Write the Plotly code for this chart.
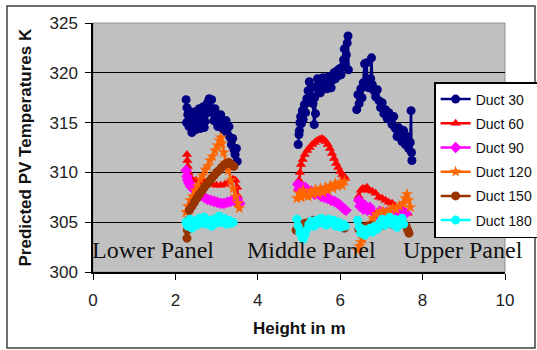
import plotly.graph_objects as go

# ---------------- data ----------------
series_names = ["Duct 30", "Duct 60", "Duct 90", "Duct 120", "Duct 150", "Duct 180"]
panel_labels = ["Lower Panel", "Middle Panel", "Upper Panel"]
panel_label_x = [-0.07, 3.70, 7.48]   # in metres (axis units)
panel_label_y = 302.2                 # in K
x_ticks = [0, 2, 4, 6, 8, 10]
y_ticks = [300, 305, 310, 315, 320, 325]
x_range = [0, 10]
y_range = [300, 325]

# Duct 30
d30_lower_x = [2.26, 2.28, 2.30, 2.27, 2.32, 2.35, 2.33, 2.38, 2.42, 2.40, 2.45, 2.48, 2.52, 2.50, 2.55, 2.58,
               2.62, 2.60, 2.65, 2.68, 2.72, 2.70, 2.75, 2.78, 2.82, 2.85, 2.88, 2.90, 2.93, 2.96, 3.00, 3.03,
               3.06, 3.10, 3.13, 3.16, 3.20, 3.23, 3.26, 3.30, 3.33, 3.36, 3.39, 3.42, 3.45, 3.48, 3.50]
d30_lower_y = [317.3, 316.5, 315.8, 315.0, 316.2, 315.4, 314.6, 315.9, 314.8, 314.0, 315.2, 316.1, 315.0, 314.3,
               315.6, 316.4, 315.5, 314.4, 315.8, 316.6, 315.1, 314.5, 315.9, 317.0, 317.4, 316.3, 317.3, 316.0,
               315.2, 316.4, 315.0, 314.6, 315.3, 315.8, 314.9, 314.3, 314.8, 315.2, 313.9, 314.6, 313.5, 312.8,
               313.4, 312.3, 311.8, 312.4, 311.1]
d30_middle_x = [4.98, 5.00, 5.02, 5.01, 5.04, 5.06, 5.08, 5.10, 5.13, 5.16, 5.19, 5.22, 5.20, 5.25, 5.28, 5.31,
                5.34, 5.37, 5.40, 5.38, 5.42, 5.45, 5.48, 5.52, 5.55, 5.58, 5.62, 5.65, 5.68, 5.72, 5.75, 5.78,
                5.82, 5.85, 5.88, 5.92, 5.95, 5.98, 6.02, 6.05, 6.08, 6.10, 6.12, 6.15, 6.17, 6.19, 6.20]
d30_middle_y = [312.8, 313.8, 315.0, 314.2, 315.6, 314.9, 316.2, 315.3, 316.8, 316.0, 317.4, 318.2, 317.0, 319.1,
                318.4, 317.6, 316.9, 314.8, 315.9, 317.5, 318.6, 319.4, 318.8, 318.0, 319.0, 319.5, 318.6, 319.2,
                318.4, 319.6, 318.9, 318.5, 319.3, 320.0, 319.4, 320.2, 319.7, 320.4, 319.8, 320.6, 321.3, 322.4,
                320.9, 321.8, 323.0, 323.7, 320.3]
d30_upper_x = [6.40, 6.43, 6.46, 6.50, 6.53, 6.56, 6.59, 6.62, 6.64, 6.66, 6.70, 6.74, 6.76, 6.78, 6.82, 6.86,
               6.90, 6.94, 6.98, 7.02, 7.06, 7.10, 7.14, 7.18, 7.22, 7.26, 7.30, 7.34, 7.38, 7.42, 7.46, 7.50,
               7.54, 7.58, 7.62, 7.66, 7.70, 7.72, 7.73, 7.74]
d30_upper_y = [316.3, 317.8, 316.9, 318.4, 317.5, 319.0, 320.9, 318.6, 321.0, 319.2, 318.5, 319.4, 321.5, 318.8,
               318.2, 317.6, 318.3, 317.2, 316.5, 317.0, 315.9, 316.3, 315.4, 316.0, 315.2, 314.8, 315.6, 314.4,
               313.6, 314.5, 313.9, 313.1, 314.2, 312.8, 313.6, 312.4, 313.0, 316.2, 312.0, 311.2]

# Duct 60
d60_lower_x = [2.28, 2.29, 2.30, 2.32, 2.35, 2.40, 2.50, 2.60, 2.70, 2.80, 2.90, 3.00, 3.10, 3.20, 3.30, 3.40,
               3.46, 3.50, 3.52, 3.54]
d60_lower_y = [311.8, 311.2, 310.6, 310.0, 309.6, 309.3, 309.2, 309.1, 309.0, 308.9, 308.8, 308.7, 308.7, 308.8,
               309.0, 309.3, 309.2, 308.5, 307.6, 306.9]
d60_middle_x = [4.98, 5.00, 5.02, 5.05, 5.09, 5.14, 5.20, 5.26, 5.32, 5.38, 5.44, 5.50, 5.55, 5.60, 5.65, 5.70,
                5.75, 5.80, 5.85, 5.90, 5.95, 6.00, 6.05, 6.10, 6.12]
d60_middle_y = [308.3, 309.2, 310.0, 310.8, 311.3, 311.8, 312.2, 312.5, 312.8, 313.0, 313.2, 313.3, 313.4, 313.3,
                313.1, 312.8, 312.4, 311.9, 311.4, 310.9, 310.5, 310.1, 309.8, 309.6, 309.4]
d60_upper_x = [6.45, 6.50, 6.55, 6.60, 6.65, 6.70, 6.78, 6.86, 6.94, 7.02, 7.10, 7.18, 7.26, 7.34, 7.42, 7.50,
               7.58, 7.64]
d60_upper_y = [307.6, 308.2, 308.4, 308.3, 308.5, 308.2, 308.1, 307.9, 307.5, 307.4, 307.2, 307.0, 306.9, 306.6,
               306.5, 306.3, 306.1, 305.9]

# Duct 90
d90_lower_x = [2.26, 2.28, 2.30, 2.33, 2.37, 2.42, 2.48, 2.55, 2.62, 2.70, 2.78, 2.86, 2.94, 3.02, 3.10, 3.18,
               3.26, 3.34, 3.42, 3.50, 3.56]
d90_lower_y = [310.2, 309.6, 309.2, 308.9, 308.6, 308.4, 308.2, 308.0, 307.7, 307.5, 307.3, 307.2, 307.1, 307.0,
               306.9, 306.9, 307.0, 307.1, 307.2, 307.3, 306.9]
d90_middle_x = [4.97, 5.00, 5.05, 5.10, 5.15, 5.22, 5.30, 5.38, 5.46, 5.54, 5.62, 5.70, 5.78, 5.86, 5.94, 6.00,
                6.05, 6.10, 6.14]
d90_middle_y = [308.8, 308.3, 308.6, 308.2, 308.5, 308.0, 308.1, 307.8, 307.9, 307.6, 307.5, 307.4, 307.2, 307.1,
                306.9, 306.7, 306.5, 306.3, 306.2]
d90_upper_x = [6.45, 6.48, 6.52, 6.56, 6.60, 6.66, 6.72, 6.80, 6.88, 6.96, 7.04, 7.12, 7.20, 7.28, 7.36, 7.44,
               7.52, 7.60]
d90_upper_y = [307.2, 306.6, 306.9, 306.3, 306.7, 306.2, 306.5, 306.0, 305.8, 306.1, 305.9, 306.0, 305.8, 306.0,
               305.9, 306.1, 306.0, 305.9]

# Duct 120
d120_lower_x = [2.26, 2.30, 2.36, 2.42, 2.48, 2.54, 2.60, 2.66, 2.72, 2.78, 2.84, 2.90, 2.96, 3.02, 3.07, 3.10,
                3.13, 3.17, 3.22, 3.28, 3.34, 3.40, 3.46, 3.52, 3.55]
d120_lower_y = [306.0, 306.6, 307.2, 307.6, 308.2, 308.6, 309.3, 309.7, 310.3, 310.6, 311.2, 311.6, 312.2, 312.7,
                313.2, 313.5, 312.9, 312.0, 311.0, 310.2, 309.2, 308.4, 307.6, 306.9, 306.4]
d120_middle_x = [4.95, 5.00, 5.05, 5.10, 5.16, 5.22, 5.28, 5.34, 5.40, 5.46, 5.52, 5.58, 5.64, 5.70, 5.76, 5.82,
                 5.88, 5.94, 6.00, 6.05, 6.10]
d120_middle_y = [307.4, 307.9, 307.5, 308.2, 307.7, 307.6, 308.1, 307.8, 308.3, 307.9, 308.4, 308.0, 308.5, 308.2,
                 308.7, 308.4, 308.9, 308.6, 309.0, 308.7, 309.1]
d120_upper_x = [6.42, 6.46, 6.50, 6.55, 6.60, 6.66, 6.72, 6.80, 6.88, 6.96, 7.04, 7.12, 7.20, 7.28, 7.36, 7.44,
                7.52, 7.58, 7.62, 7.66, 7.70]
d120_upper_y = [302.2, 302.6, 303.0, 303.3, 303.8, 304.3, 304.9, 305.4, 305.8, 306.0, 306.1, 306.0, 306.2, 306.4,
                306.3, 306.6, 306.9, 307.4, 307.8, 307.2, 306.5]

# Duct 150
d150_lower_x = [2.28, 2.29, 2.31, 2.34, 2.40, 2.46, 2.52, 2.58, 2.64, 2.70, 2.76, 2.82, 2.88, 2.94, 3.00, 3.06,
                3.12, 3.18, 3.24, 3.30, 3.36, 3.42]
d150_lower_y = [303.4, 304.2, 305.2, 306.2, 306.6, 307.0, 307.4, 307.8, 308.1, 308.5, 308.8, 309.1, 309.4, 309.7,
                310.0, 310.2, 310.5, 310.7, 310.9, 311.0, 310.8, 310.6]
d150_middle_x = [4.93, 4.98, 5.05, 5.15, 5.25, 5.35, 5.45, 5.55, 5.65, 5.75, 5.85, 5.95, 6.05, 6.10]
d150_middle_y = [304.2, 304.6, 304.8, 304.9, 305.0, 305.2, 305.1, 305.3, 305.2, 305.1, 305.0, 304.8, 304.6, 304.4]
d150_upper_x = [6.45, 6.55, 6.65, 6.75, 6.85, 6.95, 7.05, 7.15, 7.25, 7.35, 7.45, 7.55, 7.60, 7.64, 7.67]
d150_upper_y = [304.3, 304.5, 304.6, 304.7, 304.6, 304.8, 304.7, 304.9, 304.8, 305.0, 304.9, 304.8, 304.6, 304.2,
                303.9]

# Duct 180
d180_lower_x = [2.26, 2.30, 2.35, 2.40, 2.46, 2.52, 2.58, 2.64, 2.70, 2.76, 2.82, 2.88, 2.94, 3.00, 3.06, 3.12,
                3.18, 3.24, 3.30, 3.36, 3.40]
d180_lower_y = [305.0, 304.6, 305.3, 304.4, 305.1, 304.7, 305.4, 304.9, 305.5, 304.8, 305.2, 304.6, 305.3, 304.9,
                305.6, 305.0, 305.4, 304.8, 305.2, 304.9, 305.0]
d180_middle_x = [4.95, 4.98, 5.02, 5.06, 5.10, 5.14, 5.18, 5.24, 5.30, 5.36, 5.42, 5.48, 5.54, 5.60, 5.66, 5.72,
                 5.78, 5.84, 5.90, 5.96, 6.02, 6.08, 6.12]
d180_middle_y = [305.3, 304.6, 304.0, 303.6, 303.3, 303.7, 304.2, 304.8, 305.1, 304.6, 305.2, 304.9, 305.4, 305.0,
                 304.7, 305.3, 304.9, 305.2, 304.6, 305.0, 304.5, 304.8, 304.6]
d180_upper_x = [6.42, 6.46, 6.50, 6.55, 6.60, 6.66, 6.72, 6.78, 6.84, 6.90, 6.96, 7.02, 7.08, 7.14, 7.20, 7.26,
                7.32, 7.38, 7.44, 7.50, 7.54]
d180_upper_y = [305.2, 304.5, 303.9, 304.3, 303.7, 304.1, 304.4, 304.0, 304.6, 304.3, 304.9, 305.3, 304.7, 305.1,
                305.5, 304.8, 305.3, 304.5, 305.0, 305.4, 304.8]

series_x = [
    (d30_lower_x, d30_middle_x, d30_upper_x),
    (d60_lower_x, d60_middle_x, d60_upper_x),
    (d90_lower_x, d90_middle_x, d90_upper_x),
    (d120_lower_x, d120_middle_x, d120_upper_x),
    (d150_lower_x, d150_middle_x, d150_upper_x),
    (d180_lower_x, d180_middle_x, d180_upper_x),
]
series_y = [
    (d30_lower_y, d30_middle_y, d30_upper_y),
    (d60_lower_y, d60_middle_y, d60_upper_y),
    (d90_lower_y, d90_middle_y, d90_upper_y),
    (d120_lower_y, d120_middle_y, d120_upper_y),
    (d150_lower_y, d150_middle_y, d150_upper_y),
    (d180_lower_y, d180_middle_y, d180_upper_y),
]

# ---------------- style ----------------
colors = ["#000080", "#FF0000", "#FF00FF", "#FF6600", "#993300", "#00FFFF"]
symbols = ["circle", "triangle-up", "diamond", "star", "circle", "circle"]

def join_segments(segs):
    out = []
    for i, s in enumerate(segs):
        if i:
            out.append(None)
        out.extend(s)
    return out

fig = go.Figure()
for i, name in enumerate(series_names):
    fig.add_trace(go.Scatter(
        x=join_segments(series_x[i]), y=join_segments(series_y[i]),
        mode="lines+markers", name=name, legendgroup=name,
        line=dict(color=colors[i], width=2.5),
        marker=dict(color=colors[i], symbol=symbols[i], size=9, line=dict(width=0)),
        connectgaps=False,
    ))

# panel labels (paper coords so the first one is not hidden when slightly left of x=0)
for lbl, lx in zip(panel_labels, panel_label_x):
    px = (lx - x_range[0]) / (x_range[1] - x_range[0])
    py = (panel_label_y - y_range[0]) / (y_range[1] - y_range[0])
    fig.add_annotation(x=px, y=py, xref="paper", yref="paper", text=lbl, showarrow=False,
                       xanchor="left", yanchor="middle",
                       font=dict(family="Liberation Serif, Times New Roman, serif", size=24, color="#111"))

# axis titles as annotations
fig.add_annotation(x=0.5, y=-0.226, xref="paper", yref="paper", text="<b>Height in m</b>", showarrow=False,
                   xanchor="center", yanchor="middle",
                   font=dict(family="Liberation Sans, Arial", size=17, color="#111"))
fig.add_annotation(x=-0.165, y=0.5, xref="paper", yref="paper", text="<b>Predicted PV Temperatures K</b>",
                   showarrow=False, textangle=-90, xanchor="center", yanchor="middle",
                   font=dict(family="Liberation Sans, Arial", size=17, color="#111"))

# outer chart border and plot-area outline
fig.add_shape(type="rect", xref="paper", yref="paper", x0=-0.2087, x1=1.0728, y0=-0.305, y1=1.068,
              line=dict(color="#404040", width=1.5), fillcolor="rgba(0,0,0,0)")
fig.add_shape(type="rect", xref="paper", yref="paper", x0=0, x1=1, y0=0, y1=1,
              line=dict(color="#909090", width=1), fillcolor="rgba(0,0,0,0)", layer="below")

fig.update_layout(
    width=537, height=350,
    margin=dict(l=93, r=32, t=23, b=78, autoexpand=False),
    paper_bgcolor="white", plot_bgcolor="#C0C0C0",
    font=dict(family="Liberation Sans, Arial", size=17, color="#222"),
    showlegend=True,
    legend=dict(x=0.828, y=0.763, xanchor="left", yanchor="top",
                bgcolor="white", bordercolor="black", borderwidth=1.5,
                font=dict(family="Liberation Sans, Arial", size=14, color="#111"),
                tracegroupgap=3, itemwidth=30),
)
fig.update_xaxes(range=x_range, tickvals=x_ticks, ticks="outside", ticklen=6, tickcolor="black",
                 showline=True, linecolor="black", linewidth=1.5, showgrid=False, zeroline=False,
                 ticklabelstandoff=6)
fig.update_yaxes(range=y_range, tickvals=y_ticks, ticks="outside", ticklen=6, tickcolor="black",
                 showline=True, linecolor="black", linewidth=1.5, showgrid=True, gridcolor="black",
                 gridwidth=1, zeroline=False, ticklabelstandoff=4)

fig.write_html("out.html", config={"displayModeBar": False},
               post_script="document.body.style.margin='0';document.body.style.overflow='hidden';")
